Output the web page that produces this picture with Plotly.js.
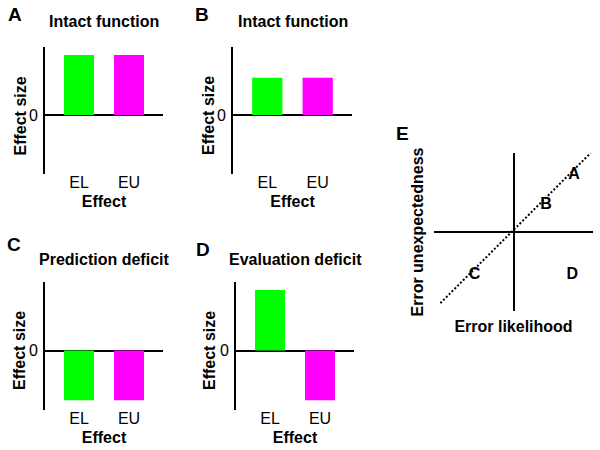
<!DOCTYPE html>
<html>
<head>
<meta charset="utf-8">
<script src="https://cdn.plot.ly/plotly-3.0.1.min.js"></script>
<style>html,body{margin:0;padding:0;background:#fff;}#chart{width:600px;height:450px;}</style>
</head>
<body>
<div id="chart"></div>
<script>
// ---- data ----
const categories = ['EL', 'EU'];
const barColors = ['#00ff00', '#ff00ff'];
const valuesA = [1.0, 1.0];     // Intact function
const valuesB = [0.62, 0.62];   // Intact function
const valuesC = [-0.82, -0.82]; // Prediction deficit
const valuesD = [1.0, -0.82];   // Evaluation deficit
const panelTitles = ['Intact function', 'Intact function', 'Prediction deficit', 'Evaluation deficit'];
const panelLetters = ['A', 'B', 'C', 'D', 'E'];
// panel E
const diagX = [-0.92, 0.97];
const diagY = [-0.90, 1.00];
const pointLabels = ['A', 'B', 'C', 'D'];
const pointLabelX = [0.76, 0.41, -0.49, 0.74];
const pointLabelY = [0.72, 0.34, -0.54, -0.54];

// ---- layout helpers ----
const W = 600, H = 450;
const FONT = 'Liberation Sans, Arial, sans-serif';
const px2x = p => p / W;
const px2y = p => 1 - p / H;

const panels = [
  {vals: valuesA, x0: 45, x1: 163, y0: 47, y1: 174, ytx: 19.5, yty: 116},
  {vals: valuesB, x0: 233, x1: 352, y0: 47, y1: 174, ytx: 208, yty: 116},
  {vals: valuesC, x0: 45, x1: 163, y0: 282, y1: 410, ytx: 19, yty: 351},
  {vals: valuesD, x0: 236, x1: 354, y0: 282, y1: 410, ytx: 209, yty: 351}
];

const data = [];
const layout = {
  width: W, height: H,
  margin: {l: 0, r: 0, t: 0, b: 0},
  paper_bgcolor: '#fff', plot_bgcolor: '#fff',
  showlegend: false,
  font: {family: FONT, color: '#000', size: 16},
  annotations: []
};

panels.forEach((p, i) => {
  const n = i + 1;
  const xa = n === 1 ? 'x' : 'x' + n;
  const ya = n === 1 ? 'y' : 'y' + n;
  data.push({
    type: 'bar', x: categories, y: p.vals, xaxis: xa, yaxis: ya,
    marker: {color: barColors, line: {width: 0}}, width: 0.6, hoverinfo: 'skip'
  });
  layout['xaxis' + (n === 1 ? '' : n)] = {
    domain: [px2x(p.x0), px2x(p.x1)], anchor: ya,
    type: 'category', range: [-0.68, 1.68], fixedrange: true,
    showgrid: false, zeroline: false, showline: false, ticks: '',
    ticklabelstandoff: -3,
    tickfont: {family: FONT, size: 16, color: '#000'},
    title: {text: '<b>Effect</b>', font: {family: FONT, size: 16, color: '#000'}, standoff: 5}
  };
  layout['yaxis' + (n === 1 ? '' : n)] = {
    domain: [px2y(p.y1), px2y(p.y0)], anchor: xa,
    range: [-0.983, 1.133], fixedrange: true,
    showgrid: false, zeroline: true, zerolinecolor: '#000', zerolinewidth: 2,
    showline: true, linecolor: '#000', linewidth: 2,
    ticks: '', tickvals: [0], ticktext: ['0'], ticklabelstandoff: 2,
    tickfont: {family: FONT, size: 16, color: '#000'}
  };
  // y-axis title (placed close to the tick label, as in the reference)
  layout.annotations.push({
    xref: 'paper', yref: 'paper', x: px2x(p.ytx), y: px2y(p.yty),
    xanchor: 'center', yanchor: 'middle', showarrow: false, textangle: -90,
    text: '<b>Effect size</b>', font: {family: FONT, size: 16, color: '#000'}
  });
  // panel title
  layout.annotations.push({
    xref: 'paper', yref: 'paper',
    x: px2x((p.x0 + p.x1) / 2), y: px2y(p.y0 - (i < 2 ? 25 : 23)),
    xanchor: 'center', yanchor: 'middle', showarrow: false,
    text: '<b>' + panelTitles[i] + '</b>', font: {family: FONT, size: 16, color: '#000'}
  });
});

// panel E
data.push({
  type: 'scatter', mode: 'lines', x: diagX, y: diagY, xaxis: 'x5', yaxis: 'y5',
  line: {color: '#000', width: 2, dash: '2px,2px'}, hoverinfo: 'skip'
});
data.push({
  type: 'scatter', mode: 'text', x: pointLabelX, y: pointLabelY, text: pointLabels,
  xaxis: 'x5', yaxis: 'y5', textposition: 'middle center',
  textfont: {family: FONT, size: 16, color: '#000', weight: 'bold'}, hoverinfo: 'skip'
});
layout.xaxis5 = {
  domain: [px2x(434), px2x(593)], anchor: 'y5', range: [-1, 1], fixedrange: true,
  showgrid: false, showline: false, zeroline: true, zerolinecolor: '#000', zerolinewidth: 2,
  showticklabels: false, ticks: '',
  title: {text: '<b>Error likelihood</b>', font: {family: FONT, size: 16, color: '#000'}, standoff: 9}
};
layout.yaxis5 = {
  domain: [px2y(311), px2y(153)], anchor: 'x5', range: [-1, 1], fixedrange: true,
  showgrid: false, showline: false, zeroline: true, zerolinecolor: '#000', zerolinewidth: 2,
  showticklabels: false, ticks: '',
  title: {text: '<b>Error unexpectedness</b>', font: {family: FONT, size: 16, color: '#000'}, standoff: 5}
};

// panel letters
const letterPos = [[14.5, 15], [202, 14.5], [13.5, 245], [203, 249.5], [402, 133]];
panelLetters.forEach((L, i) => {
  layout.annotations.push({
    xref: 'paper', yref: 'paper', x: px2x(letterPos[i][0]), y: px2y(letterPos[i][1]),
    xanchor: 'center', yanchor: 'middle', showarrow: false,
    text: '<b>' + L + '</b>', font: {family: FONT, size: 19, color: '#000'}
  });
});

Plotly.newPlot('chart', data, layout, {staticPlot: true, displayModeBar: false});
</script>
</body>
</html>
